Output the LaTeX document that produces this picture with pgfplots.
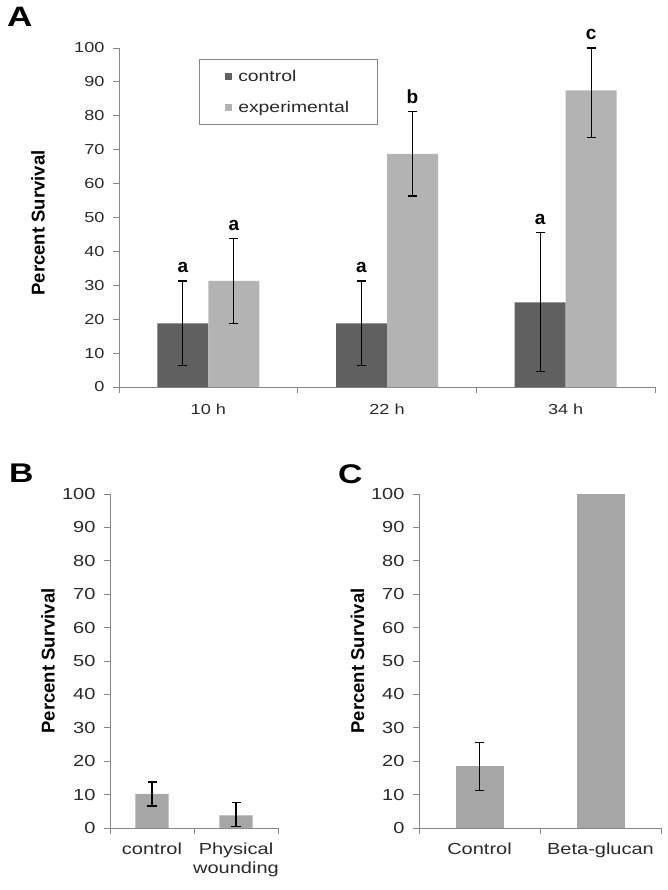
\documentclass[border=0pt]{standalone}
\usepackage{pgfplots}
\pgfplotsset{compat=1.18}
\usepackage{fontspec}
\setmainfont{Liberation Sans}[FakeStretch=1.25]
\newfontfamily\labfont{Liberation Sans}

\definecolor{ctrl}{HTML}{606060}
\definecolor{expt}{HTML}{B3B3B3}
\definecolor{mid}{HTML}{A6A6A6}
\definecolor{axgray}{HTML}{878787}
\definecolor{txt}{HTML}{2A2A2A}

\pgfplotsset{
  excel/.style={
    scale only axis, clip=false,
    axis x line=bottom, axis y line=left,
    axis line style={axgray, line width=1bp, -},
    ymin=0, ymax=100, ytick={0,10,...,100},
    tick align=outside, major tick length=6bp,
    tick style={axgray, line width=1bp},
    /pgf/number format/assume math mode=true,
    yticklabel style={text=txt, xshift=-5bp},
    xticklabel style={text=txt},
    every axis y label/.style={rotate=90, anchor=center,
      font=\labfont\fontsize{18.5bp}{21bp}\selectfont\bfseries, text=black},
    ybar,
    error bars/y dir=both, error bars/y explicit,
    error bars/error bar style={black, line width=1.3bp},
    error bars/error mark options={rotate=90, black, mark size=4.5bp, line width=1.3bp},
  }
}

\begin{document}
\begin{tikzpicture}
\useasboundingbox (0,0) rectangle (668bp,-890bp);

% Panel letters
\node[anchor=north west, inner sep=0, font=\fontsize{28bp}{30bp}\selectfont\bfseries] at (7bp,-7bp) {A};
\node[anchor=north west, inner sep=0, font=\fontsize{27bp}{29bp}\selectfont\bfseries] at (9bp,-464bp) {B};
\node[anchor=north west, inner sep=0, font=\fontsize{27bp}{29bp}\selectfont\bfseries] at (338bp,-464bp) {C};

% ---------------- Panel A ----------------
\begin{axis}[excel,
  at={(119bp,-387bp)}, anchor=south west,
  width=536bp, height=339bp,
  xmin=-0.5, xmax=2.5,
  xtick={-0.5,0.5,1.5,2.5}, xticklabels={},
  extra x ticks={0,1,2}, extra x tick labels={10 h,22 h,34 h},
  extra x tick style={major tick length=0pt, xticklabel style={yshift=-13bp}},
  ticklabel style={font=\fontsize{14.5bp}{17bp}\selectfont},
  ylabel={Percent Survival},
  every axis y label/.append style={at={(axis description cs:-0.151,0.484)}},
  bar width=51bp,
  legend style={at={(axis description cs:0.149,0.9676)}, anchor=north west,
    draw=axgray, line width=0.8bp, fill=white,
    inner xsep=26bp, inner ysep=9bp, row sep=14bp,
    font=\fontsize{15.5bp}{18bp}\selectfont, text=txt, cells={anchor=west}},
  legend image code/.code={\fill[#1, draw=none] (0bp,-3.5bp) rectangle (7bp,3.5bp);},
]
\addplot[fill=ctrl, draw=none, bar shift=-25.5bp] coordinates {
  (0,18.8) +- (0,12.5)
  (1,18.8) +- (0,12.5)
  (2,25.0) +- (0,20.5)
};
\addplot[fill=expt, draw=none, bar shift=25.5bp] coordinates {
  (0,31.3) +- (0,12.5)
  (1,68.8) +- (0,12.5)
  (2,87.5) += (0,12.5) -= (0,14.0)
};
\legend{\hspace{4bp}control,\hspace{4bp}experimental}
\addplot[sharp plot, draw=none, mark=none, forget plot, bar shift=0pt,
  error bars/y dir=none,
  nodes near coords, point meta=explicit symbolic,
  every node near coord/.append style={anchor=south, inner sep=0pt, yshift=8bp,
    font=\labfont\fontsize{19bp}{22bp}\selectfont\bfseries, text=black}]
  coordinates {
  (-0.1427,31.3)[a] (0.1427,43.8)[a]
  (0.8573,31.3)[a] (1.1427,81.3)[b]
  (1.8573,45.5)[a] (2.1427,100)[c]
};
\end{axis}

% ---------------- Panel B ----------------
\begin{axis}[excel,
  at={(110bp,-828bp)}, anchor=south west,
  width=168bp, height=334bp,
  xmin=-0.5, xmax=1.5,
  xtick={-0.5,0.5,1.5}, xticklabels={},
  extra x ticks={0,1}, extra x tick labels={control,{Physical\\wounding}},
  extra x tick style={major tick length=0pt,
    xticklabel style={yshift=-11bp, align=center, anchor=north}},
  ticklabel style={font=\fontsize{16bp}{19bp}\selectfont},
  ylabel={Percent Survival},
  every axis y label/.append style={at={(axis description cs:-0.369,0.5)}},
  bar width=33bp,
]
\addplot[fill=mid, draw=none, bar shift=0pt] coordinates {
  (0,10.2) +- (0,3.6)
  (1,3.8) += (0,3.9) -= (0,3.3)
};
\end{axis}

% ---------------- Panel C ----------------
\begin{axis}[excel,
  at={(419bp,-828bp)}, anchor=south west,
  width=242bp, height=334bp,
  xmin=-0.5, xmax=1.5,
  xtick={-0.5,0.5,1.5}, xticklabels={},
  extra x ticks={0,1}, extra x tick labels={Control,Beta-glucan},
  extra x tick style={major tick length=0pt,
    xticklabel style={yshift=-11bp, anchor=north}},
  ticklabel style={font=\fontsize{16bp}{19bp}\selectfont},
  ylabel={Percent Survival},
  every axis y label/.append style={at={(axis description cs:-0.254,0.5)}},
  bar width=48bp,
]
\addplot[fill=mid, draw=none, bar shift=0pt] coordinates {
  (0,18.5) +- (0,7.2)
};
\addplot[fill=mid, draw=none, bar shift=0pt, error bars/y dir=none] coordinates {
  (1,100)
};
\end{axis}
\end{tikzpicture}
\end{document}
